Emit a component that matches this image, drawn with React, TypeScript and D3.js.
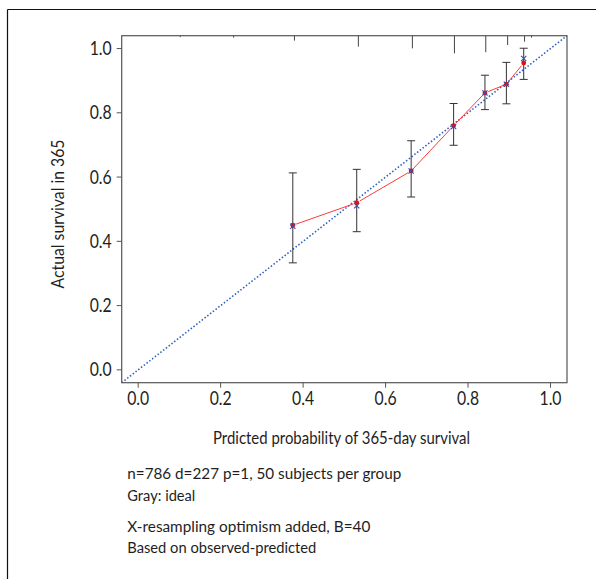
import React from 'react';
import * as d3 from 'd3';

// ---- data ----
const predicted = [0.375, 0.530, 0.662, 0.765, 0.841, 0.893, 0.935];
const observed = [0.450, 0.520, 0.619, 0.760, 0.862, 0.889, 0.955];
const corrected = [0.447, 0.511, 0.619, 0.757, 0.862, 0.889, 0.969];
const lower = [0.333, 0.430, 0.538, 0.699, 0.810, 0.828, 0.904];
const upper = [0.613, 0.624, 0.713, 0.829, 0.917, 0.957, 1.001];

const riskX = [0.102, 0.2315, 0.379, 0.534, 0.665, 0.767, 0.843, 0.896, 0.937, 0.954];
const riskFreq = [0.08, 0.11, 0.28, 0.62, 0.72, 1.0, 0.94, 0.53, 0.34, 0.11];

const xTicks = [0, 0.2, 0.4, 0.6, 0.8, 1.0];
const yTicks = [0, 0.2, 0.4, 0.6, 0.8, 1.0];

const xTitle = 'Prdicted probability of 365-day survival';
const yTitle = 'Actual survival in 365';
const notes1 = ['n=786 d=227 p=1, 50 subjects per group', 'Gray: ideal'];
const notes2 = ['X-resampling optimism added, B=40', 'Based on observed-predicted'];
const notes1Width = [274, 68];
const notes2Width = [243, 189];

const FONT = "Lato, 'Open Sans', 'Liberation Sans', sans-serif";

export default function App() {
  const W = 596, H = 579;
  const L = 121.7, R = 567, T = 35.7, B = 382.7;
  const x = d3.scaleLinear().domain([-0.04, 1.04]).range([L, R]);
  const y = d3.scaleLinear().domain([-0.04, 1.04]).range([B, T]);
  const rugLen = d3.scaleLinear().domain([0, 1]).range([0, 17.6]);
  const fmt = d3.format('.1f');

  // red line segments with gaps (R type="b")
  const gap = 3.5;
  const segs: string[] = [];
  for (let i = 0; i < predicted.length - 1; i++) {
    const x1 = x(predicted[i]), y1 = y(observed[i]);
    const x2 = x(predicted[i + 1]), y2 = y(observed[i + 1]);
    const dx = x2 - x1, dy = y2 - y1;
    const len = Math.hypot(dx, dy);
    if (len <= 2 * gap) continue;
    const ux = dx / len, uy = dy / len;
    const p = d3.path();
    p.moveTo(x1 + ux * gap, y1 + uy * gap);
    p.lineTo(x2 - ux * gap, y2 - uy * gap);
    segs.push(p.toString());
  }

  const textColor = '#1e1e1e';
  const axisColor = '#555';

  return (
    <svg width={W} height={H} style={{ position: 'absolute', left: 0, top: 0, background: '#fff' }} fontFamily={FONT}>
      <rect x={0} y={0} width={W} height={H} fill="#fff" />
      {/* outer frame */}
      <line x1={7.5} y1={9.5} x2={W} y2={9.5} stroke="#111" strokeWidth={1.2} />
      <line x1={7.5} y1={9.5} x2={7.5} y2={H} stroke="#111" strokeWidth={1.2} />

      <defs>
        <clipPath id="plotclip">
          <rect x={L} y={T} width={R - L} height={B - T} />
        </clipPath>
      </defs>

      {/* ideal line */}
      <line
        x1={x(-0.04)} y1={y(-0.04)} x2={x(1.04)} y2={y(1.04)}
        stroke="#3060c0" strokeWidth={1.6} strokeDasharray="1.5,2.0" clipPath="url(#plotclip)"
      />

      {/* risk distribution ticks at top */}
      {riskX.map((v, i) => (
        <line key={'r' + i} x1={x(v)} x2={x(v)} y1={T} y2={T + rugLen(riskFreq[i])} stroke="#444" strokeWidth={1} />
      ))}

      {/* error bars */}
      {predicted.map((p, i) => {
        const cx = x(p);
        return (
          <g key={'e' + i} stroke="#333" strokeWidth={1}>
            <line x1={cx} x2={cx} y1={y(lower[i])} y2={y(upper[i])} />
            <line x1={cx - 4} x2={cx + 4} y1={y(lower[i])} y2={y(lower[i])} />
            <line x1={cx - 4} x2={cx + 4} y1={y(upper[i])} y2={y(upper[i])} />
          </g>
        );
      })}

      {/* red observed line */}
      {segs.map((d, i) => (
        <path key={'s' + i} d={d} stroke="#ff3a3a" strokeWidth={1} fill="none" />
      ))}
      {predicted.map((p, i) => (
        <circle key={'c' + i} cx={x(p)} cy={y(observed[i])} r={2.4} fill="#e01010" />
      ))}
      {/* blue corrected x marks */}
      {predicted.map((p, i) => {
        const cx = x(p), cy = y(corrected[i]);
        const s = 2.6;
        return (
          <g key={'x' + i} stroke="#3a4fa8" strokeWidth={1.1}>
            <line x1={cx - s} y1={cy - s} x2={cx + s} y2={cy + s} />
            <line x1={cx - s} y1={cy + s} x2={cx + s} y2={cy - s} />
          </g>
        );
      })}

      {/* plot box */}
      <rect x={L} y={T} width={R - L} height={B - T} fill="none" stroke={axisColor} strokeWidth={1.2} />

      {/* x axis ticks */}
      {xTicks.map((t) => (
        <g key={'xt' + t}>
          <line x1={x(t)} x2={x(t)} y1={B} y2={B + 5} stroke={axisColor} strokeWidth={1} />
          <text x={x(t)} y={405} textAnchor="middle" fontSize={18.5} fill={textColor}
            textLength={22} lengthAdjust="spacingAndGlyphs">{fmt(t)}</text>
        </g>
      ))}
      {/* y axis ticks */}
      {yTicks.map((t) => (
        <g key={'yt' + t}>
          <line x1={L - 5} x2={L} y1={y(t)} y2={y(t)} stroke={axisColor} strokeWidth={1} />
          <text x={111.7} y={y(t) + 6.6} textAnchor="end" fontSize={18.5} fill={textColor}
            textLength={22} lengthAdjust="spacingAndGlyphs">{fmt(t)}</text>
        </g>
      ))}

      {/* axis titles */}
      <text x={341.5} y={444} textAnchor="middle" fontSize={18} fill={textColor}
        textLength={257} lengthAdjust="spacingAndGlyphs">{xTitle}</text>
      <text transform={`translate(63.5, 214) rotate(-90)`} textAnchor="middle" fontSize={18} fill={textColor}
        textLength={149} lengthAdjust="spacingAndGlyphs">{yTitle}</text>

      {/* footnotes */}
      {notes1.map((s, i) => (
        <text key={'n1' + i} x={127.3} y={479 + i * 22} fontSize={15.5} fill={textColor}
          textLength={notes1Width[i]} lengthAdjust="spacingAndGlyphs">{s}</text>
      ))}
      {notes2.map((s, i) => (
        <text key={'n2' + i} x={127.3} y={531.7 + i * 21} fontSize={15.5} fill={textColor}
          textLength={notes2Width[i]} lengthAdjust="spacingAndGlyphs">{s}</text>
      ))}
    </svg>
  );
}
